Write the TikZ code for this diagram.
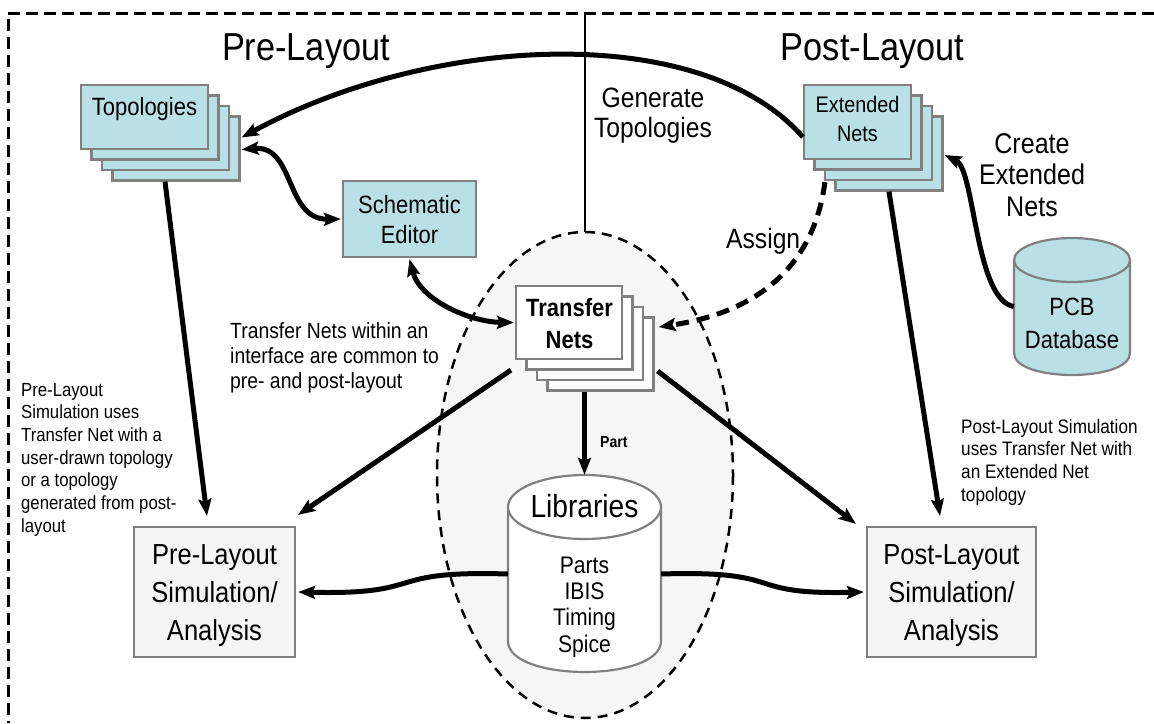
\documentclass[tikz,border=0pt]{standalone}
\usepackage{fontspec}
\setmainfont{Liberation Sans}[FakeStretch=0.88]
\usetikzlibrary{arrows.meta,calc}
\definecolor{boxcyan}{RGB}{185,224,228}
\definecolor{boxgray}{RGB}{128,128,128}
\definecolor{simfill}{RGB}{245,245,245}
\definecolor{ovalfill}{RGB}{246,246,246}
\begin{document}
\begin{tikzpicture}[x=1pt,y=-1pt,
  cyanbox/.style={draw=boxgray,line width=2.2pt,fill=boxcyan,inner sep=0pt},
  whitebox/.style={draw=boxgray,line width=2.2pt,fill=white,inner sep=0pt},
  simbox/.style={draw=boxgray,line width=2.2pt,fill=simfill,inner sep=0pt},
  txt/.style={inner sep=0pt,align=center},
  ltxt/.style={inner sep=0pt,align=left},
  tip/.style={-{Stealth[length=17pt,width=13pt,inset=3pt]}},
  arr/.style={line width=5pt,tip},
  darr/.style={line width=5pt,{Stealth[length=17pt,width=13pt,inset=3pt]}-{Stealth[length=17pt,width=13pt,inset=3pt]}},
  darrdash/.style={line width=5pt,tip,dash pattern=on 13pt off 8pt},
  frame/.style={line width=3pt,dash pattern=on 12pt off 6pt},
  oval/.style={line width=2.5pt,dash pattern=on 10pt off 7pt,fill=ovalfill},
  cyl/.style={draw=boxgray,line width=2.2pt}]
\useasboundingbox (0,0) rectangle (1154,723);

% background oval and frame
\draw[oval] (585,475) ellipse [x radius=148, y radius=243];
\draw[frame] (1154,13) -- (8,13) -- (8,723);
\draw[line width=1.5pt] (585,13) -- (585,232);

% titles
\node[txt,font=\fontsize{39}{44}\selectfont,anchor=base] (pretitle) at (306,60) {Pre-Layout};
\node[txt,font=\fontsize{39}{44}\selectfont,anchor=base] (posttitle) at (872.5,60) {Post-Layout};

% Topologies stack
\node[cyanbox,minimum width=127pt,minimum height=64pt] (topo4) at (176,148.5) {};
\node[cyanbox,minimum width=127pt,minimum height=64pt] (topo3) at (165.5,138) {};
\node[cyanbox,minimum width=127pt,minimum height=64pt] (topo2) at (155,127.5) {};
\node[cyanbox,minimum width=127pt,minimum height=64pt] (topo1) at (144.5,117) {};
\node[txt,font=\fontsize{25}{30}\selectfont,anchor=base] (topot) at (144.5,115) {Topologies};

% Extended Nets stack
\node[cyanbox,minimum width=107pt,minimum height=74pt] (ext4) at (889,153.5) {};
\node[cyanbox,minimum width=107pt,minimum height=74pt] (ext3) at (878.5,143) {};
\node[cyanbox,minimum width=107pt,minimum height=74pt] (ext2) at (868,132.5) {};
\node[cyanbox,minimum width=107pt,minimum height=74pt] (ext1) at (857.5,122) {};
\node[txt,font=\fontsize{22.5}{29}\selectfont,anchor=base] (extt) at (857.5,141) {Extended\\Nets};

% Schematic editor
\node[cyanbox,minimum width=133pt,minimum height=76pt] (schem) at (409.5,219) {};
\node[txt,font=\fontsize{25}{30}\selectfont,anchor=base] (schemt) at (409.5,243) {Schematic\\Editor};

% Transfer Nets stack
\node[whitebox,minimum width=106pt,minimum height=73pt] (tn4) at (600.5,354) {};
\node[whitebox,minimum width=106pt,minimum height=73pt] (tn3) at (590,343.5) {};
\node[whitebox,minimum width=106pt,minimum height=73pt] (tn2) at (579.5,333) {};
\node[whitebox,minimum width=106pt,minimum height=73pt] (tn1) at (569,322.5) {};
\node[txt,font=\fontsize{25}{32}\selectfont\bfseries,anchor=base] (tnt) at (569.5,348) {Transfer\\Nets};

% PCB Database cylinder
\fill[boxcyan] (1014,260) -- (1014,353) .. controls (1014,382.3) and (1130,382.3) .. (1130,353) -- (1130,260) -- cycle;
\draw[cyl] (1014,260) -- (1014,353) .. controls (1014,382.3) and (1130,382.3) .. (1130,353) -- (1130,260);
\draw[cyl,fill=boxcyan] (1072,260) ellipse [x radius=58, y radius=22];
\node[inner sep=0pt,minimum width=116pt,minimum height=137pt] (pcb) at (1072,306.5) {};
\node[txt,font=\fontsize{25}{33}\selectfont,anchor=base] (pcbt) at (1072,348) {PCB\\Database};

% Libraries cylinder
\fill[white] (508,507) -- (508,641) .. controls (508,682.3) and (661,682.3) .. (661,641) -- (661,507) -- cycle;
\draw[cyl] (508,507) -- (508,641) .. controls (508,682.3) and (661,682.3) .. (661,641) -- (661,507);
\draw[cyl,fill=white] (584.5,507) ellipse [x radius=76.5, y radius=32];
\node[inner sep=0pt,minimum width=153pt,minimum height=198pt] (lib) at (584.5,574) {};
\node[txt,font=\fontsize{32}{36}\selectfont,anchor=base] (libt) at (584.5,517) {Libraries};
\node[txt,font=\fontsize{24}{26.3}\selectfont,anchor=base] (libbody) at (584.5,652) {Parts\\IBIS\\Timing\\Spice};

% Simulation boxes
\node[simbox,minimum width=161pt,minimum height=130pt] (presim) at (214.5,592) {};
\node[txt,font=\fontsize{29}{38}\selectfont,anchor=base] (presimt) at (214.5,640) {Pre-Layout\\Simulation/\\Analysis};
\node[simbox,minimum width=169pt,minimum height=130pt] (postsim) at (951.5,592) {};
\node[txt,font=\fontsize{29}{38}\selectfont,anchor=base] (postsimt) at (951.5,640.5) {Post-Layout\\Simulation/\\Analysis};

% free labels
\node[txt,font=\fontsize{28}{30}\selectfont,anchor=base] (gent) at (653,137) {Generate\\Topologies};
\node[txt,font=\fontsize{28.5}{31.5}\selectfont,anchor=base] (createt) at (1032,216) {Create\\Extended\\Nets};
\node[ltxt,font=\fontsize{28}{30}\selectfont,anchor=base west] (assignt) at (726,248) {Assign};
\node[ltxt,font=\fontsize{22}{25}\selectfont,anchor=base west] (commont) at (230,388) {Transfer Nets within an\\interface are common to\\pre- and post-layout};
\node[ltxt,font=\fontsize{19}{22.7}\selectfont,anchor=base west] (prenote) at (21,532.2) {Pre-Layout\\Simulation uses\\Transfer Net with a\\user-drawn topology\\or a topology\\generated from post-\\layout};
\node[ltxt,font=\fontsize{19.5}{22.7}\selectfont,anchor=base west] (postnote) at (961,501.1) {Post-Layout Simulation\\uses Transfer Net with\\an Extended Net\\topology};
\node[ltxt,font=\fontsize{16}{18}\selectfont\bfseries,anchor=base west] (partt) at (600,447) {Part};

% connectors
\draw[arr] ($(ext1.west)+(0,15)$) .. controls (700,20) and (430,35) .. ($(topo4.east)+(1,-11)$);
\draw[darr] ($(topo4.east)+(1,1)$) .. controls (295,145) and (285,220) .. ($(schem.west)+(-1,0)$);
\draw[darr] ($(schem.south)+(0,1)$) .. controls (420,300) and (470,322) .. ($(tn1.west)+(-1,0)$);
\draw[darrdash] ($(ext3.south west)+(1,1)$) .. controls (812,280) and (740,315) .. ($(tn4.east)+(4,-27)$);
\draw[arr] (pcb.west) .. controls (975,300) and (975,170) .. ($(ext4.east)+(1,1.5)$);
\draw[arr] ($(topo4.south)+(-11,0)$) -- ($(presim.north)+(-7.5,-10)$);
\draw[arr] (ext4.south) -- ($(postsim.north)+(-11.5,-10)$);
\draw[arr] ($(tn1.south west)+(-4,10)$) -- ($(presim.north east)+(2,-11)$);
\draw[arr] ($(tn4.east)+(3,17)$) -- ($(postsim.north west)+(-10,-2)$);
\draw[arr] (tn4.south -| lib.north) -- (lib.north);
\draw[arr] (lib.west) .. controls (380,570) and (430,595) .. ($(presim.east)+(2,0)$);
\draw[arr] (lib.east) .. controls (790,570) and (740,595) .. ($(postsim.west)+(-2,0)$);
\end{tikzpicture}
\end{document}
